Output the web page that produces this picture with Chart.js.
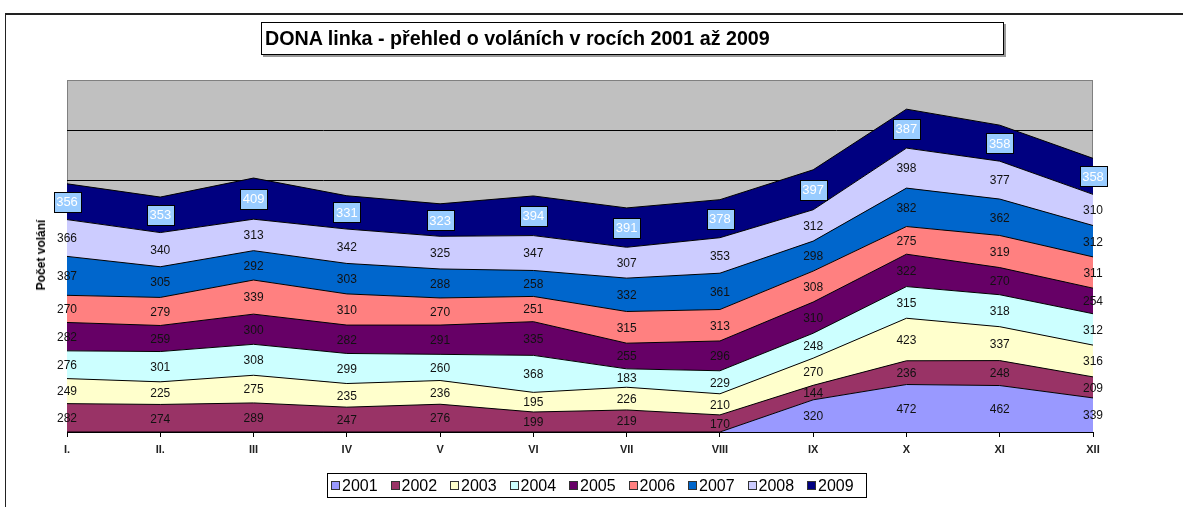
<!DOCTYPE html>
<html lang="cs">
<head>
<meta charset="utf-8">
<title>DONA linka</title>
<script src="https://cdn.jsdelivr.net/npm/chart.js@4/dist/chart.umd.min.js"></script>
<style>
    body { margin: 0; width: 1183px; height: 507px; background: #fff; overflow: hidden; font-family: "Liberation Sans", Arial, sans-serif; }
    #ramecek { position: absolute; left: 5px; top: 13px; width: 1300px; height: 600px; border-top: 2px solid #222; border-left: 1px solid #222; }
    #nadpis { position: absolute; left: 261px; top: 22px; width: 738px; height: 31px; border: 1px solid #000; box-shadow: 2px 2px 0 #999; background: #fff; font-weight: bold; font-size: 19.7px; line-height: 30px; padding-left: 3px; box-sizing: content-box; }
    #graf-obal { position: absolute; left: 0; top: 0; width: 1183px; height: 507px; }
    #osa-y { position: absolute; left: 41px; top: 255px; transform: translate(-50%, -50%) rotate(-90deg); font-weight: bold; font-size: 12px; white-space: nowrap; }
    #legenda { position: absolute; left: 327px; top: 473px; width: 536px; height: 23px; border: 1px solid #000; display: flex; align-items: center; padding-left: 2px; }
    #legenda .polozka { display: flex; align-items: center; width: 59.5px; font-size: 16px; }
    #legenda .ctverec { width: 7px; height: 7px; border: 1px solid #333; margin: 0 2px 0 1px; }
</style>
</head>
<body>
<div id="ramecek"></div>
<div id="graf-obal"><canvas id="volaniChart" width="1183" height="507"></canvas></div>
<div id="nadpis">DONA linka - přehled o voláních v rocích 2001 až 2009</div>
<div id="osa-y">Počet volání</div>
<div id="legenda"></div>

<script>
const mesice = ['I.', 'II.', 'III', 'IV', 'V', 'VI', 'VII', 'VIII', 'IX', 'X', 'XI', 'XII'];
const roky = ['2001', '2002', '2003', '2004', '2005', '2006', '2007', '2008', '2009'];

const v2001 = [0, 0, 0, 0, 0, 0, 0, 0, 320, 472, 462, 339];
const v2002 = [282, 274, 289, 247, 276, 199, 219, 170, 144, 236, 248, 209];
const v2003 = [249, 225, 275, 235, 236, 195, 226, 210, 270, 423, 337, 316];
const v2004 = [276, 301, 308, 299, 260, 368, 183, 229, 248, 315, 318, 312];
const v2005 = [282, 259, 300, 282, 291, 335, 255, 296, 310, 322, 270, 254];
const v2006 = [270, 279, 339, 310, 270, 251, 315, 313, 308, 275, 319, 311];
const v2007 = [387, 305, 292, 303, 288, 258, 332, 361, 298, 382, 362, 312];
const v2008 = [366, 340, 313, 342, 325, 347, 307, 353, 312, 398, 377, 310];
const v2009 = [356, 353, 409, 331, 323, 394, 391, 378, 397, 387, 358, 358];

const hodnoty = [v2001, v2002, v2003, v2004, v2005, v2006, v2007, v2008, v2009];
const barvy = ['#9999FF', '#993366', '#FFFFCC', '#CCFFFF', '#660066', '#FF8080', '#0066CC', '#CCCCFF', '#000080'];

const pismo = '"Liberation Sans", Arial, sans-serif';

// pozadi grafu (sede) a ramecek plochy
const pozadiPlugin = {
    id: 'pozadi',
    beforeDraw(chart) {
        const { ctx, chartArea } = chart;
        ctx.save();
        ctx.fillStyle = '#C0C0C0';
        ctx.fillRect(chartArea.left, chartArea.top, chartArea.right - chartArea.left, chartArea.bottom - chartArea.top);
        ctx.strokeStyle = '#808080';
        ctx.lineWidth = 1;
        ctx.strokeRect(chartArea.left + 0.5, chartArea.top + 0.5, chartArea.right - chartArea.left - 1, chartArea.bottom - chartArea.top);
        ctx.restore();
    }
};

// popisky hodnot uprostred kazdeho pasu
const popiskyPlugin = {
    id: 'popisky',
    afterDatasetsDraw(chart) {
        const { ctx } = chart;
        const osaY = chart.scales.y;
        ctx.save();
        ctx.textAlign = 'center';
        ctx.textBaseline = 'middle';
        hodnoty.forEach((rada, i) => {
            const meta = chart.getDatasetMeta(i);
            rada.forEach((v, j) => {
                if (!v) return;
                let pod = 0;
                for (let k = 0; k < i; k++) pod += hodnoty[k][j];
                const x = meta.data[j].x;
                const y = osaY.getPixelForValue(pod + v / 2);
                const text = String(v);
                if (i === hodnoty.length - 1) {
                    ctx.font = '13px ' + pismo;
                    const w = ctx.measureText(text).width + 5;
                    const h = 20;
                    ctx.fillStyle = '#99CCFF';
                    ctx.fillRect(Math.round(x - w / 2), Math.round(y - h / 2), Math.round(w), h);
                    ctx.strokeStyle = '#000';
                    ctx.lineWidth = 1;
                    ctx.strokeRect(Math.round(x - w / 2) + 0.5, Math.round(y - h / 2) + 0.5, Math.round(w), h);
                    ctx.fillStyle = '#fff';
                } else {
                    ctx.font = '12px ' + pismo;
                    ctx.fillStyle = '#111';
                }
                ctx.fillText(text, x, y + 1);
            });
        });
        ctx.restore();
    }
};

const ctx = document.getElementById('volaniChart').getContext('2d');
new Chart(ctx, {
    type: 'line',
    data: {
        labels: mesice,
        datasets: roky.map((rok, i) => ({
            label: rok,
            data: hodnoty[i],
            backgroundColor: barvy[i],
            borderColor: '#000',
            borderWidth: 1,
            fill: i === 0 ? 'origin' : '-1',
            pointRadius: 0,
            tension: 0
        }))
    },
    options: {
        responsive: false,
        animation: false,
        layout: { padding: { left: 67, right: 90, top: 80, bottom: 45 } },
        plugins: {
            legend: { display: false },
            tooltip: { enabled: false }
        },
        scales: {
            x: {
                grid: { drawOnChartArea: false, drawTicks: true, tickLength: 5, color: '#000' },
                border: { color: '#000', width: 1 },
                ticks: {
                    color: '#222',
                    font: { family: pismo, size: 11, weight: 'bold' },
                    padding: 6,
                    autoSkip: false,
                    maxRotation: 0
                },
                afterFit: (scale) => { scale.height = 30; }
            },
            y: {
                stacked: true,
                min: 0,
                max: 3500,
                ticks: { stepSize: 500, display: false },
                grid: {
                    drawTicks: false,
                    color: (c) => (c.tick && c.tick.value === 3500 ? '#808080' : '#000')
                },
                border: { display: false },
                afterFit: (scale) => { scale.width = 0; }
            }
        }
    },
    plugins: [pozadiPlugin, popiskyPlugin]
});

// legenda
const legenda = document.getElementById('legenda');
roky.forEach((rok, i) => {
    const polozka = document.createElement('div');
    polozka.className = 'polozka';
    polozka.innerHTML = `<span class="ctverec" style="background:${barvy[i]}"></span>${rok}`;
    legenda.appendChild(polozka);
});
</script>
</body>
</html>
